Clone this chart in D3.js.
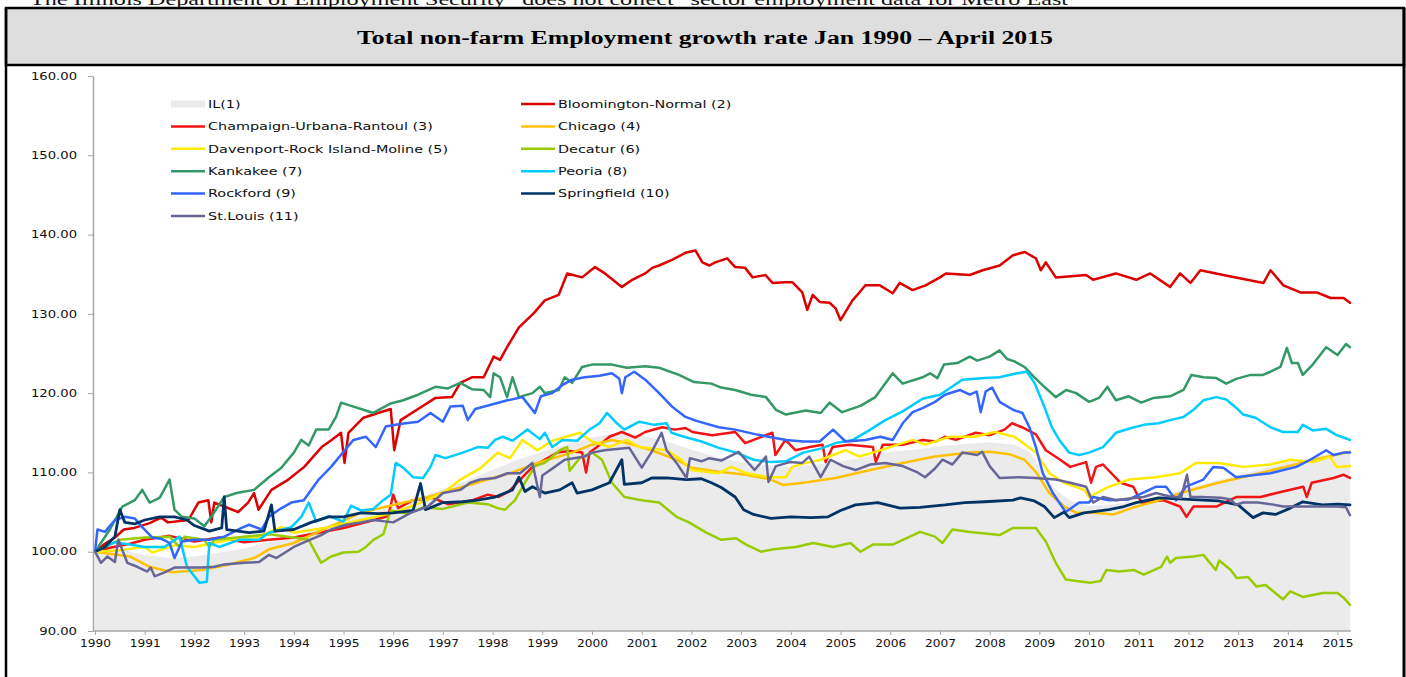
<!DOCTYPE html>
<html>
<head>
<meta charset="utf-8">
<script src="https://cdn.jsdelivr.net/npm/d3@7"></script>
<style>
  html, body { margin: 0; padding: 0; background: #fff; }
  svg { display: block; }
</style>
</head>
<body>
<svg id="chart"></svg>
<script>
// --------- data ([year, index]) --------------------------------
const years = d3.range(1990, 2016);
const yTicks = [90, 100, 110, 120, 130, 140, 150, 160];

const il = [[1990.0,100],[1990.5,100.3],[1991.0,99.6],[1991.5,99.2],[1992.0,99.4],[1992.5,99.9],[1993.0,100.4],[1993.5,101.2],[1994.0,101.9],[1994.5,103],[1995.0,103.9],[1995.5,104.8],[1996.0,105.7],[1996.5,106.8],[1997.0,107.9],[1997.5,109],[1998.0,110.3],[1998.5,111.6],[1999.0,112.6],[1999.5,113.6],[2000.0,114.4],[2000.5,115],[2001.0,114.7],[2001.5,113.9],[2002.0,112.9],[2002.5,111.9],[2003.0,111.3],[2003.5,110.9],[2004.0,110.7],[2004.5,111],[2005.0,111.4],[2005.5,111.9],[2006.0,112.6],[2006.5,112.9],[2007.0,113.3],[2007.5,113.6],[2008.0,113.8],[2008.5,113.5],[2008.8,112.6],[2009.0,110.8],[2009.3,108],[2009.6,106.5],[2010.0,105.8],[2010.5,106],[2011.0,106.5],[2011.5,107.2],[2012.0,108],[2012.5,108.9],[2013.0,109.6],[2013.5,110.5],[2014.0,111.3],[2014.5,111.9],[2015.0,112.5],[2015.25,112.8]];

const bloomington = [[1990.0,100],[1990.2,101],[1990.4,101.8],[1990.58,102.8],[1990.79,103],[1991.1,103.6],[1991.33,104.3],[1991.47,103.7],[1991.88,104],[1992.08,106.2],[1992.28,106.5],[1992.34,103.7],[1992.4,106.2],[1992.6,105.7],[1992.88,105],[1993.08,106.2],[1993.2,107.4],[1993.29,105.3],[1993.55,107.8],[1993.89,109.1],[1994.21,110.7],[1994.56,113.2],[1994.76,114.1],[1994.95,115],[1995.02,111.2],[1995.1,115],[1995.4,116.9],[1995.7,117.5],[1995.95,118],[1996.02,112.8],[1996.15,116.6],[1996.5,118],[1996.85,119.4],[1997.18,119.5],[1997.35,121.3],[1997.58,122],[1997.82,122],[1998.02,124.6],[1998.15,124.2],[1998.29,125.8],[1998.53,128.3],[1998.83,130.1],[1999.05,131.7],[1999.33,132.4],[1999.5,135.1],[1999.8,134.6],[2000.06,135.9],[2000.26,135.1],[2000.6,133.4],[2000.81,134.3],[2001.07,135.1],[2001.21,135.8],[2001.35,136.1],[2001.61,136.8],[2001.88,137.7],[2002.08,138],[2002.22,136.5],[2002.36,136.1],[2002.48,136.5],[2002.72,137],[2002.88,135.9],[2003.08,135.8],[2003.23,134.6],[2003.49,134.9],[2003.63,133.9],[2003.89,134],[2004.03,134],[2004.23,132.7],[2004.33,130.5],[2004.44,132.4],[2004.58,131.5],[2004.78,131.4],[2004.9,130.7],[2005.0,129.2],[2005.24,131.7],[2005.38,132.7],[2005.5,133.6],[2005.79,133.6],[2006.05,132.6],[2006.19,133.9],[2006.45,133],[2006.71,133.6],[2007.0,134.6],[2007.12,135.1],[2007.6,134.9],[2007.86,135.5],[2008.2,136.1],[2008.47,137.4],[2008.71,137.8],[2008.93,137],[2009.03,135.5],[2009.13,136.5],[2009.33,134.6],[2009.94,134.9],[2010.08,134.3],[2010.54,135.1],[2010.95,134.3],[2011.23,135.1],[2011.63,133.4],[2011.83,135.1],[2012.04,133.9],[2012.24,135.5],[2012.7,134.9],[2013.51,133.9],[2013.65,135.5],[2013.91,133.6],[2014.25,132.7],[2014.58,132.7],[2014.86,132],[2015.12,132],[2015.25,131.4]];

const champaign = [[1990.0,100],[1990.3,100.5],[1990.7,101],[1991.0,101.5],[1991.5,102],[1992.0,101.3],[1992.5,101.8],[1993.0,101.2],[1993.5,101.5],[1994.0,101.8],[1994.5,102.4],[1995.0,103],[1995.5,103.8],[1995.9,104.5],[1996.0,107.2],[1996.1,105.5],[1996.4,106.5],[1996.8,106.8],[1997.1,106],[1997.6,106.5],[1997.9,107.2],[1998.12,106.9],[1998.33,107.6],[1998.8,110.7],[1999.3,112.5],[1999.55,112.7],[1999.8,112.5],[1999.88,110],[1999.95,112.5],[2000.1,113.2],[2000.35,114.5],[2000.6,115.1],[2000.87,114.4],[2001.07,115.1],[2001.41,115.7],[2001.67,115.4],[2001.88,115.6],[2002.02,115.1],[2002.42,114.7],[2002.88,115.1],[2003.08,113.7],[2003.37,114.4],[2003.63,115],[2003.69,112.2],[2003.89,114.1],[2004.09,112.8],[2004.38,113.2],[2004.64,113.5],[2004.7,111.3],[2004.84,113.2],[2005.18,113.5],[2005.65,113.2],[2005.71,111.3],[2005.85,113.5],[2006.25,113.5],[2006.65,114.1],[2006.92,113.9],[2007.1,114.5],[2007.32,114.1],[2007.72,115],[2008.0,114.7],[2008.3,115.4],[2008.45,116.2],[2008.65,115.7],[2008.93,114.8],[2009.13,112.8],[2009.42,111.6],[2009.62,110.7],[2009.94,111.3],[2010.04,108.7],[2010.14,110.7],[2010.28,111],[2010.63,108.7],[2010.89,108.2],[2011.05,106.2],[2011.49,106.5],[2011.83,105.7],[2011.96,104.4],[2012.1,105.7],[2012.56,105.7],[2012.96,106.9],[2013.45,106.9],[2013.77,107.4],[2014.31,108.2],[2014.38,106.9],[2014.48,108.7],[2014.92,109.3],[2015.12,109.7],[2015.25,109.3]];

const chicago = [[1990.0,100],[1990.7,99.4],[1991.1,98.1],[1991.55,97.4],[1992.15,97.7],[1992.7,98.4],[1993.2,99.2],[1993.5,100.3],[1994.0,101.1],[1994.7,103.1],[1995.35,104.9],[1996.0,105.9],[1996.7,106.9],[1997.4,108.2],[1998.05,109.4],[1998.4,110],[1998.9,111.2],[1999.6,112.5],[2000.0,113.5],[2000.4,114.1],[2000.7,113.7],[2001.2,112.8],[2001.7,111.6],[2002.0,110.6],[2002.55,110.1],[2003.1,109.7],[2003.6,109.1],[2003.85,108.4],[2004.25,108.7],[2004.9,109.3],[2005.6,110.3],[2006.25,111.2],[2006.9,112],[2007.6,112.5],[2008.0,112.6],[2008.4,112.3],[2008.7,111.6],[2008.95,109.9],[2009.2,107.4],[2009.5,105.7],[2009.75,104.9],[2010.1,104.9],[2010.5,104.7],[2010.85,105.5],[2011.3,106.3],[2011.95,107.6],[2012.6,108.7],[2013.3,109.7],[2013.95,110.7],[2014.65,111.8],[2015.25,112.6]];

const davenport = [[1990.0,100],[1990.5,100.2],[1991.0,100.6],[1991.15,99.9],[1991.6,100.8],[1992.0,100.6],[1992.7,101.5],[1993.3,101.9],[1993.75,103.1],[1994.0,102.4],[1994.7,103.1],[1995.35,104],[1996.0,104.9],[1996.35,105.7],[1997.0,107.4],[1997.35,109.1],[1997.75,110.5],[1998.1,112.5],[1998.35,111.8],[1998.6,114.1],[1998.9,112.8],[1999.2,114],[1999.75,115],[2000.0,113.9],[2000.35,113.2],[2000.7,114.1],[2000.95,113.2],[2001.5,112.8],[2001.8,111.6],[2002.0,110.3],[2002.55,109.9],[2002.8,110.7],[2003.1,109.9],[2003.55,109.4],[2003.9,109.4],[2004.03,110.7],[2004.3,111.2],[2004.6,111.6],[2005.1,112.8],[2005.38,112],[2005.65,112.5],[2006.45,114.1],[2006.7,113.5],[2007.2,114.5],[2007.7,114.5],[2008.1,115.1],[2008.5,114.5],[2008.93,112.5],[2009.2,109.9],[2009.5,108.7],[2009.9,107.8],[2010.0,106.9],[2010.4,108.2],[2010.8,109.1],[2011.35,109.4],[2011.83,109.9],[2012.15,111.2],[2012.6,111.2],[2013.1,110.7],[2013.65,111],[2014.05,111.6],[2014.5,111.3],[2014.85,112],[2014.98,110.7],[2015.25,110.8]];

const decatur = [[1990.0,100],[1990.5,101.5],[1991.0,101.8],[1991.5,101.9],[1991.7,100.6],[1991.8,101.9],[1992.2,101.5],[1992.3,100.6],[1992.4,101.5],[1993.0,101.9],[1993.5,102.2],[1994.0,101.8],[1994.3,101.5],[1994.55,98.6],[1994.75,99.4],[1995.0,99.9],[1995.3,100],[1995.45,100.6],[1995.6,101.5],[1995.8,102.2],[1995.95,105.2],[1996.3,104.8],[1996.6,105.6],[1997.0,105.4],[1997.5,106.2],[1997.9,106],[1998.1,105.5],[1998.25,105.3],[1998.45,106.5],[1998.65,108.7],[1998.85,110.8],[1999.05,111.2],[1999.35,112.8],[1999.5,113.2],[1999.55,110.2],[1999.75,111.8],[2000.0,112.5],[2000.2,111.6],[2000.4,108.7],[2000.65,106.9],[2001.0,106.5],[2001.35,106.2],[2001.7,104.4],[2001.95,103.7],[2002.3,102.4],[2002.6,101.5],[2002.9,101.7],[2003.1,100.9],[2003.4,100],[2003.65,100.3],[2004.1,100.6],[2004.45,101.1],[2004.85,100.6],[2005.2,101.1],[2005.4,100],[2005.65,100.9],[2006.05,100.9],[2006.6,102.5],[2006.9,101.9],[2007.05,101.1],[2007.25,102.8],[2007.6,102.5],[2007.9,102.3],[2008.2,102.1],[2008.47,103],[2008.93,103],[2009.13,101.3],[2009.33,98.6],[2009.53,96.5],[2009.75,96.3],[2010.03,96.1],[2010.23,96.3],[2010.35,97.7],[2010.6,97.5],[2010.9,97.7],[2011.1,97.1],[2011.45,98.1],[2011.57,99.4],[2011.63,98.6],[2011.75,99.2],[2012.1,99.4],[2012.3,99.6],[2012.55,97.7],[2012.62,98.9],[2012.85,97.7],[2012.97,96.7],[2013.2,96.8],[2013.37,95.6],[2013.55,95.8],[2013.9,94],[2014.05,95],[2014.3,94.3],[2014.7,94.8],[2015.0,94.8],[2015.12,94.2],[2015.25,93.3]];

const kankakee = [[1990.0,100],[1990.3,102.8],[1990.55,105.7],[1990.8,106.5],[1990.95,107.8],[1991.1,106.2],[1991.3,106.8],[1991.5,109.1],[1991.6,105.3],[1991.75,104.4],[1992.0,104.2],[1992.2,103.2],[1992.35,104.5],[1992.6,106.9],[1992.85,107.4],[1993.2,107.8],[1993.5,109.4],[1993.75,110.6],[1994.0,112.5],[1994.15,114.1],[1994.3,113.4],[1994.45,115.4],[1994.7,115.4],[1994.85,117],[1994.95,118.8],[1995.2,118.3],[1995.4,117.9],[1995.6,117.5],[1995.95,118.7],[1996.2,119.1],[1996.5,119.8],[1996.85,120.8],[1997.1,120.6],[1997.35,121.3],[1997.58,120.5],[1997.82,120.4],[1997.95,119.5],[1998.02,122.5],[1998.15,122],[1998.29,119.5],[1998.4,122],[1998.53,119.5],[1998.8,120],[1998.95,120.8],[1999.05,120],[1999.33,120.4],[1999.45,122],[1999.6,121.3],[1999.8,123.3],[2000.0,123.6],[2000.4,123.6],[2000.7,123.2],[2001.07,123.4],[2001.35,123.2],[2001.75,122.3],[2002.05,121.4],[2002.4,121.2],[2002.6,120.7],[2002.88,120.4],[2003.2,119.8],[2003.5,119.5],[2003.7,117.9],[2003.9,117.3],[2004.3,117.8],[2004.6,117.5],[2004.78,118.8],[2005.03,117.6],[2005.4,118.4],[2005.7,119.5],[2006.05,122.5],[2006.25,121.2],[2006.65,122],[2006.8,122.5],[2006.95,121.9],[2007.08,123.6],[2007.35,123.8],[2007.6,124.6],[2007.75,124.1],[2008.0,124.6],[2008.2,125.4],[2008.35,124.3],[2008.5,124],[2008.7,123.3],[2008.9,122],[2009.1,120.8],[2009.33,119.5],[2009.54,120.4],[2009.74,120],[2010.0,118.9],[2010.2,119.4],[2010.37,120.8],[2010.54,119.1],[2010.8,119.6],[2011.05,118.8],[2011.3,119.4],[2011.63,119.6],[2011.9,120.4],[2012.06,122.3],[2012.3,122],[2012.56,121.9],[2012.76,121.2],[2012.96,121.8],[2013.25,122.3],[2013.5,122.3],[2013.65,122.7],[2013.85,123.3],[2013.98,125.7],[2014.08,123.8],[2014.2,123.8],[2014.3,122.3],[2014.5,123.6],[2014.77,125.8],[2015.0,124.8],[2015.17,126.2],[2015.25,125.8]];

const peoria = [[1990.0,100],[1990.4,101.2],[1990.7,100.9],[1991.0,100.6],[1991.4,100.6],[1991.7,101.9],[1991.85,98.1],[1992.1,96.1],[1992.25,96.2],[1992.3,101.1],[1992.5,100.6],[1992.9,101.5],[1993.3,101.5],[1993.5,102.4],[1993.95,103.1],[1994.15,104.4],[1994.3,106.2],[1994.45,103.8],[1994.7,104.5],[1995.0,103.8],[1995.15,105.8],[1995.35,105.2],[1995.6,105.4],[1995.8,106.5],[1995.95,107.2],[1996.05,111.2],[1996.2,110.6],[1996.4,109.4],[1996.6,109.3],[1996.75,110.7],[1996.85,112.2],[1997.05,111.8],[1997.4,112.5],[1997.7,113.2],[1997.9,113.1],[1998.05,114.1],[1998.2,114.5],[1998.4,114],[1998.7,115.4],[1998.95,114.2],[1999.05,115],[1999.2,113.2],[1999.4,114.1],[1999.7,114],[1999.95,115.4],[2000.15,116.2],[2000.3,117.5],[2000.5,116.2],[2000.65,115.4],[2000.95,116.4],[2001.25,116],[2001.5,116.2],[2001.6,115],[2001.8,114.6],[2002.2,113.9],[2002.55,113.1],[2002.9,112.5],[2003.25,111.6],[2003.6,111.3],[2003.9,111.4],[2004.25,112.5],[2004.6,113],[2004.9,113.7],[2005.25,114.1],[2005.6,115.4],[2005.9,116.6],[2006.25,117.7],[2006.65,119.3],[2007.0,119.8],[2007.45,121.7],[2007.9,121.9],[2008.2,122],[2008.55,122.5],[2008.75,122.7],[2008.9,121.3],[2009.1,118.3],[2009.25,115.7],[2009.4,114.1],[2009.6,112.5],[2009.8,112.2],[2010.0,112.5],[2010.28,113.2],[2010.54,115],[2010.85,115.6],[2011.1,116],[2011.4,116.2],[2011.63,116.6],[2011.9,117],[2012.1,117.9],[2012.3,119.1],[2012.56,119.5],[2012.76,119.2],[2012.97,118.1],[2013.1,117.3],[2013.35,116.9],[2013.65,115.7],[2013.9,115.1],[2014.2,115.1],[2014.3,116],[2014.5,115.3],[2014.77,115.5],[2014.98,114.7],[2015.12,114.4],[2015.25,114.1]];

const rockford = [[1990.0,100],[1990.05,102.8],[1990.2,102.5],[1990.4,104],[1990.6,104.4],[1990.8,104.2],[1990.95,103.1],[1991.15,101.8],[1991.35,101.6],[1991.5,101.1],[1991.6,99.2],[1991.75,101.3],[1992.0,101.5],[1992.3,101.5],[1992.6,101.9],[1992.95,103],[1993.1,103.4],[1993.35,102.8],[1993.5,104.4],[1993.7,105.3],[1993.95,106.2],[1994.2,106.5],[1994.5,109.1],[1994.75,110.7],[1995.0,112.6],[1995.2,114.1],[1995.45,114.5],[1995.65,113.2],[1995.85,115.8],[1996.05,116],[1996.25,116.2],[1996.5,116.4],[1996.75,117.5],[1997.0,116.4],[1997.15,118.3],[1997.4,118.4],[1997.5,116.6],[1997.65,118],[1998.0,118.6],[1998.3,119.1],[1998.6,119.5],[1998.85,117.5],[1998.97,119.6],[1999.2,120],[1999.4,121],[1999.6,121.7],[1999.85,122],[2000.15,122.2],[2000.4,122.5],[2000.55,121.8],[2000.6,120],[2000.67,122],[2000.85,122.7],[2001.07,121.7],[2001.35,120],[2001.61,118.3],[2001.88,117],[2002.1,116.5],[2002.55,115.7],[2002.88,115.4],[2003.3,114.8],[2003.55,114.5],[2003.9,114.1],[2004.25,113.9],[2004.58,113.9],[2004.85,115.4],[2005.1,113.9],[2005.5,114.1],[2005.8,114.5],[2006.05,114.1],[2006.25,116.2],[2006.45,117.6],[2006.65,118.1],[2006.9,118.9],[2007.1,119.8],[2007.4,120.4],[2007.6,119.8],[2007.74,120.2],[2007.82,117.6],[2007.92,120.2],[2008.05,120.7],[2008.2,118.9],[2008.47,117.9],[2008.66,117.5],[2008.8,115.7],[2008.93,113.2],[2009.07,109.9],[2009.27,107.4],[2009.53,105],[2009.8,106.2],[2010.0,106.2],[2010.08,106.9],[2010.4,106.5],[2010.8,106.6],[2011.35,108.2],[2011.55,108.2],[2011.75,106.5],[2011.95,108.2],[2012.3,109.1],[2012.5,110.7],[2012.7,110.6],[2012.96,109.4],[2013.25,109.6],[2013.65,109.9],[2013.91,110.3],[2014.17,110.7],[2014.45,111.6],[2014.77,112.8],[2014.92,112.2],[2015.12,112.5],[2015.25,112.5]];

const springfield = [[1990.0,100],[1990.2,100.6],[1990.4,101.9],[1990.5,105.3],[1990.6,103.7],[1990.8,103.5],[1991.0,104],[1991.3,104.4],[1991.6,104.4],[1991.85,104],[1992.0,103.3],[1992.3,102.6],[1992.55,103],[1992.6,106.9],[1992.65,102.8],[1993.1,102.4],[1993.4,102.6],[1993.55,105.9],[1993.62,102.6],[1994.0,102.8],[1994.35,103.7],[1994.7,104.4],[1995.0,104.4],[1995.35,104.9],[1995.7,104.8],[1996.0,104.9],[1996.4,105.2],[1996.55,108.6],[1996.65,105.3],[1997.0,106.2],[1997.4,106.3],[1997.7,106.5],[1998.05,106.9],[1998.4,107.8],[1998.53,109.4],[1998.65,107.6],[1998.8,108.2],[1999.05,107.4],[1999.35,107.8],[1999.6,108.7],[1999.7,107.4],[2000.0,107.8],[2000.35,108.7],[2000.6,111.6],[2000.65,108.5],[2001.0,108.7],[2001.2,109.3],[2001.5,109.3],[2001.9,109.1],[2002.2,109.2],[2002.4,108.7],[2002.6,108.1],[2002.88,106.9],[2003.05,105.3],[2003.25,104.7],[2003.6,104.2],[2004.0,104.4],[2004.4,104.3],[2004.75,104.4],[2005.0,105.2],[2005.3,105.9],[2005.75,106.2],[2006.2,105.5],[2006.6,105.6],[2007.1,105.9],[2007.5,106.2],[2007.9,106.3],[2008.47,106.5],[2008.62,106.8],[2008.9,106.4],[2009.1,105.7],[2009.3,104.3],[2009.5,105],[2009.6,104.3],[2009.9,104.9],[2010.4,105.3],[2010.7,105.7],[2010.95,106.2],[2011.4,106.8],[2012.0,106.6],[2012.6,106.4],[2013.0,105.9],[2013.3,104.3],[2013.5,104.9],[2013.75,104.7],[2014.05,105.5],[2014.3,106.3],[2014.7,105.9],[2015.0,106],[2015.25,105.9]];

const stlouis = [[1990.0,100],[1990.12,98.6],[1990.25,99.4],[1990.4,98.7],[1990.47,101.5],[1990.55,100.2],[1990.65,98.6],[1990.85,98.1],[1991.05,97.5],[1991.12,98],[1991.2,96.9],[1991.4,97.4],[1991.6,98],[1991.9,98],[1992.15,98],[1992.4,98.1],[1992.6,98.4],[1993.0,98.6],[1993.3,98.7],[1993.5,99.6],[1993.65,99.2],[1994.0,100.6],[1994.25,101.3],[1994.55,102.1],[1994.75,102.8],[1995.05,103.4],[1995.35,103.7],[1995.6,104],[1996.0,103.7],[1996.35,104.9],[1996.7,105.7],[1997.0,107.4],[1997.35,107.8],[1997.55,108.7],[1997.75,109.1],[1998.05,109.3],[1998.3,109.9],[1998.55,109.9],[1998.8,111.2],[1998.95,106.9],[1999.0,109.6],[1999.25,110.7],[1999.45,111.6],[1999.85,112],[2000.0,112.5],[2000.25,112.8],[2000.55,113],[2000.75,113.1],[2001.0,110.6],[2001.2,112.6],[2001.4,115],[2001.5,112.8],[2001.7,111.2],[2001.9,109.3],[2001.97,111.8],[2002.2,111.4],[2002.36,111.8],[2002.6,111.5],[2002.95,112.6],[2003.27,110.3],[2003.5,112],[2003.55,108.8],[2003.7,110.8],[2003.98,111.3],[2004.23,111.2],[2004.37,112],[2004.6,109.4],[2004.8,111.6],[2005.05,110.8],[2005.3,110.3],[2005.6,111],[2005.9,111.2],[2006.25,110.8],[2006.55,110],[2006.7,109.4],[2006.9,110.5],[2007.05,111.6],[2007.25,111],[2007.45,112.5],[2007.75,112.2],[2007.85,112.6],[2008.0,110.8],[2008.2,109.3],[2008.6,109.4],[2008.93,109.3],[2009.33,109.1],[2009.62,108.7],[2009.94,108.2],[2010.08,106.2],[2010.28,106.9],[2010.54,106.5],[2010.82,106.7],[2011.1,106.9],[2011.35,107.4],[2011.6,107],[2011.85,106.8],[2011.97,109.7],[2012.04,106.9],[2012.24,106.9],[2012.65,106.8],[2012.85,106.6],[2012.95,105.9],[2013.1,106.2],[2013.4,106.2],[2013.65,106],[2013.91,105.7],[2014.31,105.7],[2014.65,105.7],[2014.98,105.7],[2015.17,105.6],[2015.25,104.6]];

// --------- table for drawing ----------
const series = [
  { name: "Bloomington-Normal (2)", data: bloomington, color: "#dc0000" },
  { name: "Champaign-Urbana-Rantoul (3)", data: champaign, color: "#f01414" },
  { name: "Chicago (4)", data: chicago, color: "#ffc000" },
  { name: "Davenport-Rock Island-Moline (5)", data: davenport, color: "#ffea00" },
  { name: "Decatur (6)", data: decatur, color: "#99cc00" },
  { name: "Kankakee (7)", data: kankakee, color: "#339966" },
  { name: "Peoria (8)", data: peoria, color: "#00ccff" },
  { name: "Rockford (9)", data: rockford, color: "#3366ff" },
  { name: "Springfield (10)", data: springfield, color: "#003366" },
  { name: "St.Louis (11)", data: stlouis, color: "#666699" }
];
const ilColor = "#ebebeb";

const width = 1406, height = 677;
const sansFont = "DejaVu Sans, Verdana, sans-serif";
const serifFont = "Liberation Serif, Times New Roman, serif";

const svg = d3.select("#chart")
  .attr("width", width)
  .attr("height", height);

svg.append("rect").attr("width", width).attr("height", height).attr("fill", "#fff");

// measure helper, the picture is wider than the fonts
function measure(str, size, family, weight) {
  const t = svg.append("text")
    .attr("font-family", family)
    .attr("font-size", size)
    .attr("font-weight", weight || "normal")
    .text(str);
  const w = t.node().getComputedTextLength();
  t.remove();
  return w;
}
function stretch(sel, k) {
  sel.each(function() {
    const w = this.getComputedTextLength();
    d3.select(this).attr("textLength", w * k).attr("lengthAdjust", "spacingAndGlyphs");
  });
}

// texte coupé en haut (comme dans l'original)
svg.append("text")
  .attr("x", 30)
  .attr("y", 5)
  .attr("font-family", serifFont)
  .attr("font-size", 17)
  .attr("fill", "#111")
  .attr("textLength", 1038)
  .attr("lengthAdjust", "spacingAndGlyphs")
  .text("The Illinois Department of Employment Security\u201D does not collect \u201Csector employment data for Metro East");

// cadre + titre
svg.append("rect")
  .attr("x", 6).attr("y", 8)
  .attr("width", 1398).attr("height", 57)
  .attr("fill", "#dedede")
  .attr("stroke", "#000")
  .attr("stroke-width", 2.5);

svg.append("line").attr("x1", 6).attr("x2", 6).attr("y1", 8).attr("y2", height)
  .attr("stroke", "#000").attr("stroke-width", 2.5);
svg.append("line").attr("x1", 1404).attr("x2", 1404).attr("y1", 8).attr("y2", height)
  .attr("stroke", "#000").attr("stroke-width", 3);

svg.append("text")
  .attr("x", 705)
  .attr("y", 44)
  .attr("text-anchor", "middle")
  .attr("font-family", serifFont)
  .attr("font-weight", 700)
  .attr("font-size", 18.5)
  .attr("fill", "#000")
  .attr("textLength", 696)
  .attr("lengthAdjust", "spacingAndGlyphs")
  .text("Total non-farm  Employment  growth rate Jan 1990 \u2013 April 2015");

// scales
const x = d3.scaleLinear().domain([1990, 2015.25]).range([95, 1350]);
const y = d3.scaleLinear().domain([90, 160]).range([631, 76]);

const g = svg.append("g");

// IL area
g.append("path")
  .datum(il)
  .attr("fill", ilColor)
  .attr("d", d3.area()
    .x(d => x(d[0]))
    .y0(y(90))
    .y1(d => y(d[1])));

// lines
const line = d3.line().x(d => x(d[0])).y(d => y(d[1]));
g.selectAll(".series")
  .data(series)
  .join("path")
  .attr("class", "series")
  .attr("fill", "none")
  .attr("stroke", d => d.color)
  .attr("stroke-width", d => d.color === "#003366" ? 2.8 : 2.5)
  .attr("stroke-linejoin", "round")
  .attr("stroke-linecap", "round")
  .attr("d", d => line(d.data));

// axes
const axisColor = "#a6a6a6";
const kTick = 46 / measure("160.00", 10, sansFont);
const kYear = 31 / measure("1990", 10, sansFont);

const yAxis = svg.append("g")
  .attr("transform", "translate(93,0)")
  .call(d3.axisLeft(y).tickValues(yTicks).tickFormat(d3.format(".2f")).tickSize(5).tickSizeOuter(0).tickPadding(11));
yAxis.select(".domain").attr("stroke", axisColor).attr("stroke-width", 1.5);
yAxis.selectAll(".tick line").attr("stroke", axisColor);
yAxis.selectAll("text").attr("font-family", sansFont).attr("font-size", 10).attr("fill", "#111");
stretch(yAxis.selectAll("text"), kTick);

const xAxis = svg.append("g")
  .attr("transform", "translate(0,631)")
  .call(d3.axisBottom(x).tickValues(years).tickFormat(d3.format("d")).tickSize(4).tickSizeOuter(0).tickPadding(5));
xAxis.select(".domain").remove();
xAxis.selectAll(".tick line").attr("stroke", axisColor);
xAxis.selectAll("text").attr("font-family", sansFont).attr("font-size", 10).attr("fill", "#111");
stretch(xAxis.selectAll("text"), kYear);
xAxis.append("line")
  .attr("x1", 93).attr("x2", 1351)
  .attr("stroke", axisColor).attr("stroke-width", 1.5);

// legende
const legendItems = [{ name: "IL(1)", color: ilColor, area: true }].concat(series);
const kLegend = 240 / measure("Davenport-Rock Island-Moline (5)", 10.5, sansFont);
const legend = svg.append("g");
const item = legend.selectAll(".item")
  .data(legendItems)
  .join("g")
  .attr("class", "item")
  .attr("transform", (d, i) => `translate(${i % 2 === 0 ? 171 : 521},${104 + Math.floor(i / 2) * 22.4})`);

item.each(function(d) {
  const el = d3.select(this);
  if (d.area) {
    el.append("rect").attr("x", 0).attr("y", -3.5).attr("width", 34).attr("height", 7).attr("fill", d.color);
  } else {
    el.append("line").attr("x1", 0).attr("x2", 34).attr("stroke", d.color).attr("stroke-width", 2.5);
  }
});
item.append("text")
  .attr("x", 37)
  .attr("y", 0)
  .attr("dy", "0.36em")
  .attr("font-family", sansFont)
  .attr("font-size", 10.5)
  .attr("fill", "#111")
  .text(d => d.name);
stretch(item.selectAll("text"), kLegend);
</script>
</body>
</html>
